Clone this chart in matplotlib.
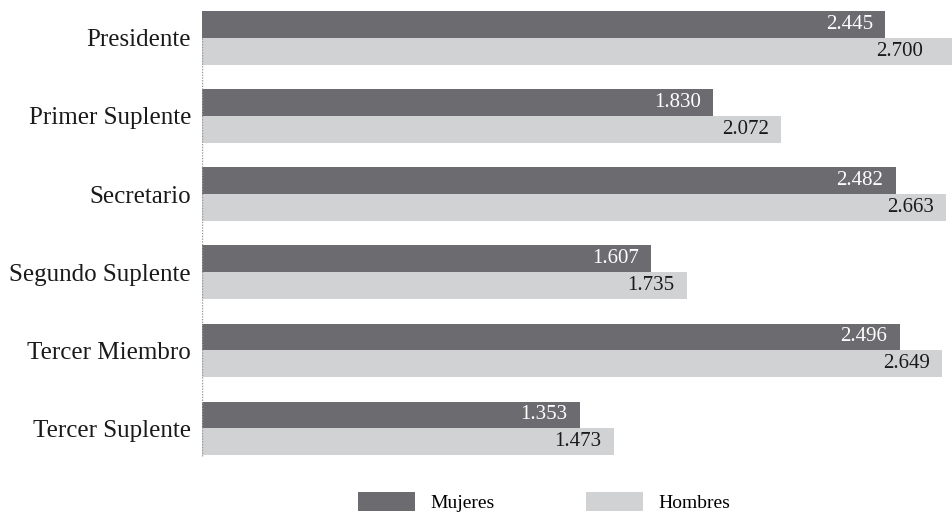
import matplotlib
matplotlib.use("Agg")
import matplotlib.pyplot as plt
import numpy as np
from matplotlib.patches import Patch

categories = ["Presidente", "Primer Suplente", "Secretario", "Segundo Suplente",
              "Tercer Miembro", "Tercer Suplente"]
mujeres = [2445, 1830, 2482, 1607, 2496, 1353]
hombres = [2700, 2072, 2663, 1735, 2649, 1473]
series_names = ["Mujeres", "Hombres"]

def fmt(v):
    return f"{v:,}".replace(",", ".")

plt.rcParams['font.family'] = ['Liberation Serif', 'DejaVu Serif']

W, H = 952, 513
fig = plt.figure(figsize=(W / 100, H / 100), dpi=100)
ax = fig.add_axes([202 / W, 1 - 470 / H, 1 - 202 / W, 470 / H])

dark = "#6b6b70"
light = "#d1d2d4"
bh = 0.34
y = np.arange(len(categories))
ax.barh(y - bh / 2, mujeres, height=bh, color=dark, linewidth=0)
ax.barh(y + bh / 2, hombres, height=bh, color=light, linewidth=0)

xmax = (952 - 202) / 0.2795
ax.set_xlim(0, xmax)
ax.set_ylim(5.538, -0.487)

for i in range(len(categories)):
    ax.annotate(fmt(mujeres[i]), xy=(min(mujeres[i], xmax), y[i] - bh / 2),
                xytext=(-9, 0), textcoords="offset points", ha="right", va="center",
                color="white", fontsize=15)
    xv = hombres[i]
    off = -9 if xv < xmax else -21
    ax.annotate(fmt(xv), xy=(min(xv, xmax), y[i] + bh / 2),
                xytext=(off, 0), textcoords="offset points", ha="right", va="center",
                color="#1a1a1a", fontsize=15)

ax.set_yticks(y)
ax.set_yticklabels(categories, fontsize=18, color="#1a1a1a")
ax.tick_params(axis="y", length=0, pad=8)
ax.set_xticks([])
for s in ax.spines.values():
    s.set_visible(False)
ax.axvline(0, ymin=1 - 456 / 470, ymax=1 - 38 / 470, color="#999999",
           linestyle=(0, (1, 1)), linewidth=1)

handles = [Patch(facecolor=dark, edgecolor="none"), Patch(facecolor=light, edgecolor="none")]
fig.legend(handles, series_names, loc="center", bbox_to_anchor=(544 / W, 1 - 502 / H),
           ncol=2, frameon=False, fontsize=14, handlelength=2.94, handleheight=1.1,
           columnspacing=4.7, handletextpad=0.77, borderpad=0, borderaxespad=0)

fig.savefig("out.png", dpi=100)
